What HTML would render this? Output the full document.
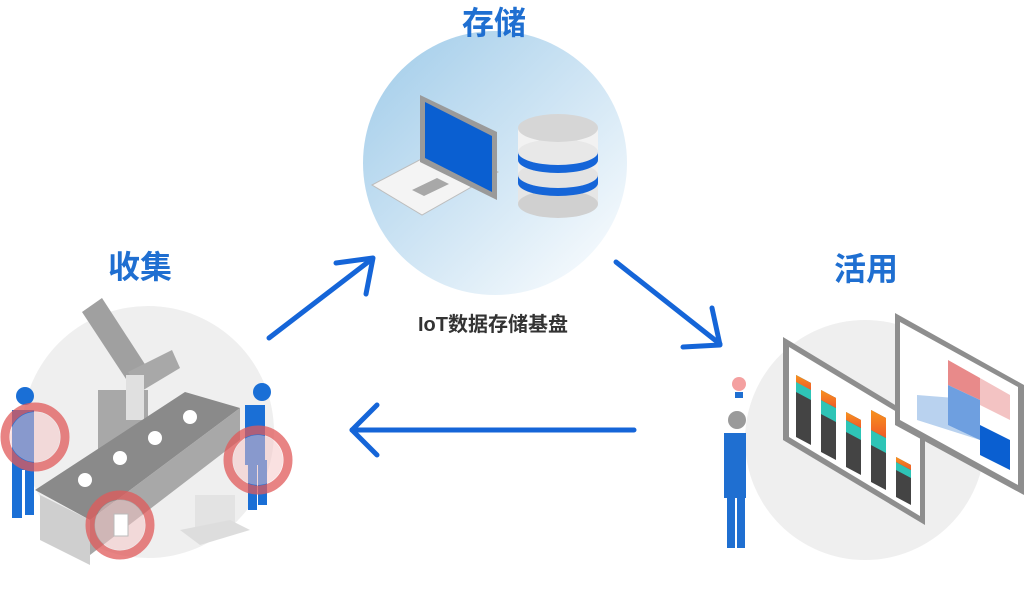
<!DOCTYPE html>
<html><head><meta charset="utf-8"><style>
html,body{margin:0;padding:0;background:#fff;width:1024px;height:598px;overflow:hidden}
svg{display:block}
text{font-family:"Liberation Sans","Noto Sans CJK SC",sans-serif}
</style></head><body>
<svg width="1024" height="598" viewBox="0 0 1024 598">
<defs>
<linearGradient id="bg" x1="0" y1="0" x2="1" y2="1">
<stop offset="0" stop-color="#9fcbe9"/><stop offset="0.55" stop-color="#d3e7f5"/><stop offset="1" stop-color="#ffffff"/>
</linearGradient>
<linearGradient id="og" x1="0" y1="0" x2="0" y2="1"><stop offset="0" stop-color="#f7931e"/><stop offset="1" stop-color="#f05a28"/></linearGradient>
</defs>
<circle cx="495" cy="163" r="132" fill="url(#bg)"/>
<text x="494" y="34" font-size="32" font-weight="bold" fill="#1f6fd1" text-anchor="middle">存储</text>
<!-- laptop -->
<polygon points="372,185 448,145 498,172 422,215" fill="#f4f4f4" stroke="#bdbdbd"/>
<polygon points="420,95 497,132 497,200 420,162" fill="#9a9a9a"/>
<polygon points="425,102 492,136 492,192 425,158" fill="#0a5fd1"/>
<polygon points="412,190 437,178 449,184 424,196" fill="#a8a8a8"/>
<!-- database -->
<rect x="518" y="132" width="80" height="72" fill="#e6e6e6"/>
<ellipse cx="558" cy="204" rx="40" ry="14" fill="#d0d0d0"/>
<rect x="518" y="175" width="80" height="8" fill="#1565d8"/>
<ellipse cx="558" cy="183" rx="40" ry="13" fill="#1565d8"/>
<rect x="518" y="150" width="80" height="25" fill="#eeeeee"/>
<ellipse cx="558" cy="175" rx="40" ry="13" fill="#e3e3e3"/>
<rect x="518" y="152" width="80" height="8" fill="#1565d8"/>
<ellipse cx="558" cy="160" rx="40" ry="13" fill="#1565d8"/>
<rect x="518" y="128" width="80" height="24" fill="#f2f2f2"/>
<ellipse cx="558" cy="152" rx="40" ry="13" fill="#e8e8e8"/>
<ellipse cx="558" cy="128" rx="40" ry="14" fill="#d6d6d6"/>
<text x="493" y="331" font-size="20" font-weight="bold" fill="#333" text-anchor="middle">IoT数据存储基盘</text>
<g stroke="#1565d8" stroke-width="5" fill="none" stroke-linecap="round" stroke-linejoin="round">
<line x1="269" y1="338" x2="372" y2="259"/><polyline points="336,263 373,258 366,294"/>
<line x1="616" y1="262" x2="720" y2="344"/><polyline points="683,347 720,345 712,308"/>
<line x1="634" y1="430" x2="352" y2="430"/><polyline points="377,405 352,430 377,455"/>
</g>
<!-- left circle -->
<circle cx="148" cy="432" r="126" fill="#efefef"/>
<text x="140" y="278" font-size="32" font-weight="bold" fill="#1f6fd1" text-anchor="middle">收集</text>
<rect x="98" y="390" width="50" height="60" fill="#a8a8a8"/>
<polygon points="82,312 102,298 150,372 130,385" fill="#a0a0a0"/>
<polygon points="128,372 172,350 180,368 140,392" fill="#a8a8a8"/>
<rect x="126" y="375" width="18" height="45" fill="#e0e0e0"/>
<polygon points="35,490 185,392 240,408 90,520" fill="#8a8a8a"/>
<polygon points="90,520 240,408 240,440 90,555" fill="#a8a8a8"/>
<polygon points="40,495 90,520 90,565 40,540" fill="#cfcfcf"/>
<g fill="#fff"><circle cx="85" cy="480" r="7"/><circle cx="120" cy="458" r="7"/><circle cx="155" cy="438" r="7"/><circle cx="190" cy="417" r="7"/></g>
<rect x="195" y="495" width="40" height="35" fill="#e3e3e3"/>
<polygon points="180,530 230,520 250,530 200,545" fill="#ddd"/>
<g fill="#1a6fd6"><rect x="12" y="410" width="22" height="60"/><rect x="12" y="470" width="10" height="48"/><rect x="25" y="470" width="9" height="45"/><circle cx="25" cy="396" r="9"/>
<rect x="245" y="405" width="20" height="60"/><rect x="248" y="465" width="9" height="45"/><rect x="258" y="460" width="9" height="45"/><circle cx="262" cy="392" r="9"/></g>
<g fill="none" stroke="#e05a5a" stroke-opacity="0.75" stroke-width="9">
<circle cx="35" cy="437" r="30"/><circle cx="258" cy="460" r="30"/><circle cx="120" cy="525" r="30"/></g>
<g fill="#f5c4c4" fill-opacity="0.5"><circle cx="35" cy="437" r="25"/><circle cx="258" cy="460" r="25"/><circle cx="120" cy="525" r="25"/></g>
<rect x="114" y="514" width="14" height="22" fill="#fff" stroke="#bbb"/>
<!-- right circle -->
<circle cx="865" cy="440" r="120" fill="#efefef"/>
<text x="866" y="280" font-size="32" font-weight="bold" fill="#1f6fd1" text-anchor="middle">活用</text>
<polygon points="783,337 925,423 925,525 783,440" fill="#8e8e8e"/>
<polygon points="789,347 920,426 920,516 789,437" fill="#fff"/>
<g>
<polygon points="796,375 811,383 811,445 796,437" fill="#444"/><polygon points="796,375 811,383 811,400 796,392" fill="#2ec4b6"/><polygon points="796,375 811,383 811,390 796,382" fill="url(#og)"/>
<polygon points="821,390 836,398 836,460 821,452" fill="#444"/><polygon points="821,400 836,408 836,422 821,414" fill="#2ec4b6"/><polygon points="821,390 836,398 836,408 821,400" fill="url(#og)"/>
<polygon points="846,412 861,420 861,475 846,467" fill="#444"/><polygon points="846,420 861,428 861,440 846,432" fill="#2ec4b6"/><polygon points="846,412 861,420 861,428 846,420" fill="url(#og)"/>
<polygon points="871,410 886,418 886,490 871,482" fill="#444"/><polygon points="871,430 886,438 886,453 871,445" fill="#2ec4b6"/><polygon points="871,410 886,418 886,438 871,430" fill="url(#og)"/>
<polygon points="896,457 911,465 911,505 896,497" fill="#444"/><polygon points="896,462 911,470 911,478 896,470" fill="#2ec4b6"/><polygon points="896,457 911,465 911,470 896,462" fill="url(#og)"/>
</g>
<polygon points="895,313 1024,385 1024,495 895,425" fill="#8e8e8e"/>
<polygon points="900,322 1018,387 1018,485 900,420" fill="#fff"/>
<polygon points="948,360 980,378 980,400 948,385" fill="#e88a8a"/>
<polygon points="980,378 1010,395 1010,420 980,405" fill="#f3c3c3"/>
<polygon points="917,395 980,400 980,440 917,420" fill="#b9d2ef"/>
<polygon points="948,385 980,400 980,440 948,425" fill="#6e9fe0"/>
<polygon points="980,425 1010,440 1010,470 980,455" fill="#0a5fd1"/>
<g fill="#1f6fd1"><rect x="724" y="433" width="22" height="65"/><rect x="727" y="498" width="8" height="50"/><rect x="737" y="498" width="8" height="50"/></g>
<circle cx="737" cy="420" r="9" fill="#9a9a9a"/>
<circle cx="739" cy="384" r="7" fill="#f4a0a0"/><rect x="735" y="392" width="8" height="6" fill="#1f6fd1"/>
</svg>
</body></html>
